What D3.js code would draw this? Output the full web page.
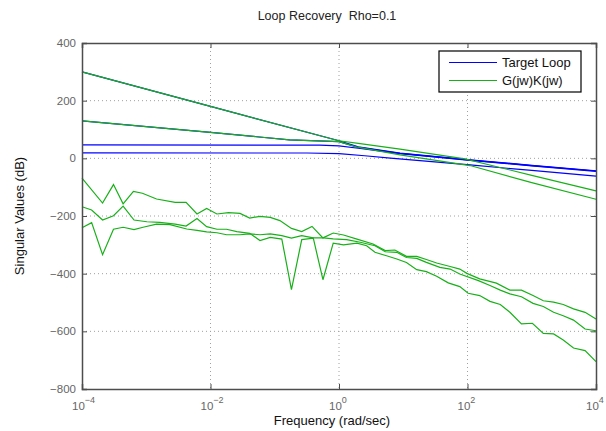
<!DOCTYPE html>
<html>
<head>
<meta charset="utf-8">
<script src="https://cdn.jsdelivr.net/npm/d3@7"></script>
<style>
  body { margin: 0; background: #fff; }
  svg { font-family: "Liberation Sans", Arial, sans-serif; }
</style>
</head>
<body>
<div id="chart"></div>
<script>
// axis ticks
var xTickExp = [-4, -2, 0, 2, 4];
var yTicks = [400, 200, 0, -200, -400, -600, -800];

// Target Loop singular values (log10 freq, dB)
var b1Exp = [-4, -2, 0, 0.3, 0.95, 2.04, 3, 4];
var b1Val = [300, 180, 61, 40, 18, -5, -24, -43];
var b2Exp = [-4, -2, -0.77, 0, 0.3, 0.95, 2.04, 3, 4];
var b2Val = [130, 90, 64, 58, 38, 17, -6, -25, -44];
var b3Exp = [-4, -0.3, 0, 0.3, 0.95, 2.04, 3, 4];
var b3Val = [46.5, 46, 43, 35, 16, -7, -26, -45];
var b4Exp = [-4, -0.5, 0, 0.4, 0.8, 2.04, 3, 4];
var b4Val = [18.7, 18.5, 16.5, 9, 1, -23, -42, -62];

// G(jw)K(jw) singular values
var g1Exp = [-4, -2, 0, 0.3, 0.95, 1.96, 3, 4];
var g1Val = [300, 180, 61, 52, 32, -2, -59, -113];
var g2Exp = [-4, -2, -0.77, 0, 0.27, 0.95, 2.04, 3, 4];
var g2Val = [130, 90, 64, 58, 40, 12, -25, -84, -142];

var n1Exp = [-4,-3.68,-3.51,-3.36,-3.20,-3.06,-2.84,-2.55,-2.38,-2.21,-2.06,-1.90,-1.72,-1.54,-1.39,-1.23,-1.07,-0.92,-0.74,-0.58,-0.42,-0.25,-0.09,0.07,0.28,0.53,0.72,0.87,1.05,1.21,1.36,1.52,1.73,1.88,1.99,2.19,2.45,2.66,2.84,3.02,3.18,3.34,3.49,3.65,3.83,4.0];
var n1Val = [-69,-155,-91,-158,-115,-121,-141,-153,-153,-193,-174,-193,-188,-191,-207,-201,-205,-216,-243,-254,-236,-276,-259,-266,-280,-297,-320,-318,-340,-340,-351,-363,-375,-384,-399,-418,-433,-457,-457,-476,-494,-499,-507,-522,-534,-557];

var n2Exp = [-4,-3.85,-3.68,-3.51,-3.36,-3.19,-2.99,-2.79,-2.55,-2.38,-2.21,-2.06,-1.90,-1.75,-1.59,-1.39,-1.23,-1.07,-0.89,-0.74,-0.58,-0.40,-0.25,-0.09,0.07,0.28,0.43,0.56,0.74,0.90,1.05,1.21,1.36,1.52,1.70,1.88,2.01,2.19,2.35,2.51,2.66,2.84,3.01,3.18,3.34,3.49,3.65,3.83,4.0];
var n2Val = [-168,-179,-214,-199,-166,-214,-220,-222,-228,-235,-209,-237,-246,-246,-254,-260,-285,-274,-280,-455,-282,-277,-421,-294,-300,-294,-303,-326,-338,-349,-361,-386,-393,-409,-432,-445,-468,-476,-496,-507,-534,-574,-572,-607,-609,-630,-658,-667,-705];

var n3Exp = [-4,-3.85,-3.68,-3.51,-3.36,-3.19,-3.05,-2.84,-2.63,-2.37,-2.21,-2.06,-1.90,-1.75,-1.54,-1.39,-1.23,-1.07,-0.89,-0.74,-0.58,-0.40,-0.24,-0.09,0.12,0.33,0.56,0.72,0.90,1.05,1.21,1.36,1.57,1.73,1.88,2.17,2.35,2.51,2.66,2.84,3.02,3.18,3.34,3.49,3.65,3.83,4.0];
var n3Val = [-241,-223,-334,-246,-239,-247,-239,-228,-230,-245,-250,-255,-258,-265,-265,-262,-265,-262,-268,-277,-268,-276,-276,-279,-282,-291,-303,-324,-326,-344,-347,-361,-378,-384,-401,-424,-441,-457,-470,-480,-503,-514,-534,-546,-561,-592,-598];

var blue = "#0000ff", green = "#18b018";

var W = 606, H = 431;
var margin = {top: 43, right: 10, bottom: 42, left: 82};
var width = W - margin.left - margin.right,
    height = H - margin.top - margin.bottom;

var x = d3.scaleLog().domain([1e-4, 1e4]).range([0, width]);
var y = d3.scaleLinear().domain([-800, 400]).range([height, 0]);

var svg = d3.select("#chart").append("svg")
    .attr("width", W).attr("height", H);
var g = svg.append("g")
    .attr("transform", "translate(" + margin.left + "," + margin.top + ")");

var xTickVals = xTickExp.map(function(e) { return Math.pow(10, e); });

// grid
g.append("g").selectAll("line").data(xTickVals.slice(1, -1)).enter().append("line")
    .attr("x1", function(d) { return x(d); }).attr("x2", function(d) { return x(d); })
    .attr("y1", 0).attr("y2", height)
    .attr("stroke", "#a0a0a0").attr("stroke-dasharray", "1,3");
g.append("g").selectAll("line").data(yTicks.slice(1, -1)).enter().append("line")
    .attr("y1", function(d) { return y(d); }).attr("y2", function(d) { return y(d); })
    .attr("x1", 0).attr("x2", width)
    .attr("stroke", "#a0a0a0").attr("stroke-dasharray", "1,3");

// lines
var line = d3.line()
    .x(function(d) { return x(Math.pow(10, d[0])); })
    .y(function(d) { return y(d[1]); });

function draw(ex, vals, color) {
  g.append("path")
      .datum(d3.zip(ex, vals))
      .attr("fill", "none")
      .attr("stroke", color)
      .attr("stroke-width", 1.2)
      .attr("d", line);
}

draw(b1Exp, b1Val, blue);
draw(b2Exp, b2Val, blue);
draw(b3Exp, b3Val, blue);
draw(b4Exp, b4Val, blue);
draw(g1Exp, g1Val, green);
draw(g2Exp, g2Val, green);
draw(n1Exp, n1Val, green);
draw(n2Exp, n2Val, green);
draw(n3Exp, n3Val, green);

// axes (box with inward ticks)
var axisColor = "#4d4d4d";
var xb = g.append("g").attr("transform", "translate(0," + height + ")")
    .call(d3.axisBottom(x).tickValues(xTickVals).tickSize(-5).tickFormat(""));
var xt = g.append("g")
    .call(d3.axisTop(x).tickValues(xTickVals).tickSize(-5).tickFormat(""));
var yl = g.append("g")
    .call(d3.axisLeft(y).tickValues(yTicks).tickSize(-5).tickFormat(""));
var yr = g.append("g").attr("transform", "translate(" + width + ",0)")
    .call(d3.axisRight(y).tickValues(yTicks).tickSize(-5).tickFormat(""));
[xb, xt, yl, yr].forEach(function(a) {
  a.select(".domain").attr("stroke", axisColor).attr("stroke-width", 1.5);
  a.selectAll(".tick line").attr("stroke", axisColor);
});

// tick labels
var labelColor = "#666";
g.append("g").selectAll("text").data(yTicks).enter().append("text")
    .attr("x", -6).attr("y", function(d) { return y(d) + 4; })
    .attr("text-anchor", "end").attr("font-size", 11.5).attr("fill", labelColor)
    .text(function(d) { return d < 0 ? "\u2212" + Math.abs(d) : d; });

var xl = g.append("g").selectAll("text").data(xTickExp).enter().append("text")
    .attr("x", function(d) { return x(Math.pow(10, d)) - 10; })
    .attr("y", height + 21)
    .attr("font-size", 11.5).attr("fill", labelColor);
xl.append("tspan").text("10");
xl.append("tspan").attr("dy", -7).attr("font-size", 9)
    .text(function(d) { return d < 0 ? "\u2212" + Math.abs(d) : d; });

// titles
svg.append("text").attr("x", 327).attr("y", 20).attr("text-anchor", "middle")
    .attr("font-size", 12.5).attr("fill", "#222").text("Loop Recovery\u00a0\u00a0Rho=0.1");
svg.append("text").attr("x", 332).attr("y", 425).attr("text-anchor", "middle")
    .attr("font-size", 13).attr("fill", "#111").text("Frequency (rad/sec)");
svg.append("text").attr("transform", "translate(24," + (margin.top + height / 2) + ") rotate(-90)")
    .attr("text-anchor", "middle").attr("font-size", 13).attr("fill", "#111")
    .text("Singular Values (dB)");

// legend
var lg = svg.append("g").attr("transform", "translate(439,51)");
lg.append("rect").attr("width", 142).attr("height", 41)
    .attr("fill", "#fff").attr("stroke", "#000").attr("stroke-width", 1.2);
var legendItems = [["Target Loop", blue], ["G(jw)K(jw)", green]];
legendItems.forEach(function(it, i) {
  var yy = 11.5 + i * 18;
  lg.append("line").attr("x1", 10).attr("x2", 58).attr("y1", yy).attr("y2", yy)
      .attr("stroke", it[1]).attr("stroke-width", 1.2);
  lg.append("text").attr("x", 63).attr("y", yy + 4.5).attr("font-size", 13)
      .attr("fill", "#111").text(it[0]);
});
</script>
</body>
</html>
